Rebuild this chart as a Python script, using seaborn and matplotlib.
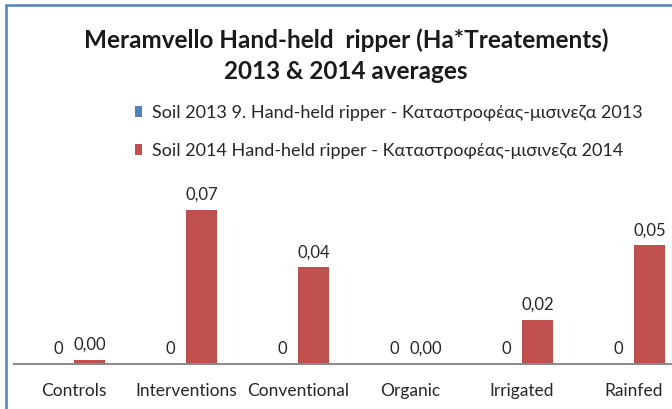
import matplotlib
matplotlib.use("Agg")
import matplotlib.pyplot as plt
from matplotlib.patches import Rectangle
import seaborn as sns
import pandas as pd

categories = ["Controls", "Interventions", "Conventional", "Organic", "Irrigated", "Rainfed"]
series_names = [
    "Soil 2013 9. Hand-held ripper - Καταστροφέας-μισινεζα 2013",
    "Soil 2014 Hand-held ripper - Καταστροφέας-μισινεζα 2014",
]
values_2013 = [0, 0, 0, 0, 0, 0]
values_2014 = [0.002, 0.070, 0.044, 0.0, 0.020, 0.054]
labels_2013 = ["0", "0", "0", "0", "0", "0"]
labels_2014 = ["0,00", "0,07", "0,04", "0,00", "0,02", "0,05"]
colors = ["#4F81BD", "#C0504D"]
title = "Meramvello Hand-held  ripper (Ha*Treatements)\n2013 & 2014 averages"

df = pd.DataFrame({
    "category": categories * 2,
    "series": [series_names[0]] * len(categories) + [series_names[1]] * len(categories),
    "value": values_2013 + values_2014,
})

sns.set_theme(style="white")
plt.rcParams["font.family"] = ["Lato", "Open Sans", "DejaVu Sans"]

W, H = 672, 409
fig = plt.figure(figsize=(W / 100, H / 100), dpi=100)
fig.patch.set_facecolor("white")

ax_bottom = 364
ax_top = 190
ax_left = 14
ax = fig.add_axes([ax_left / W, (H - ax_bottom) / H, 1 - ax_left / W, (ax_bottom - ax_top) / H])

sns.barplot(data=df, x="category", y="value", hue="series", order=categories,
            hue_order=series_names, palette=colors, width=0.554, ax=ax,
            saturation=1, linewidth=0, errorbar=None)

px_per_unit = 2200.0
ax.set_ylim(0, (ax_bottom - ax_top) / px_per_unit)
ax.set_xlim((ax_left - 74) / 112, (W - 74) / 112)

for cont, labs in zip(ax.containers, [labels_2013, labels_2014]):
    ax.bar_label(cont, labels=labs, padding=5, fontsize=12, color="#262626")

for s in ["top", "right", "left"]:
    ax.spines[s].set_visible(False)
ax.spines["bottom"].set_color("#8C8C8C")
ax.spines["bottom"].set_linewidth(1.5)
ax.set_yticks([])
ax.set_xlabel("")
ax.set_ylabel("")
ax.tick_params(axis="x", length=0, pad=14, labelsize=12.5, labelcolor="#262626")
ax.patch.set_alpha(0)

handles, labs = ax.get_legend_handles_labels()
ax.legend(handles, labs, loc="upper left", bbox_to_anchor=(119 / W, 1 - 89 / H),
          bbox_transform=fig.transFigure, frameon=False, fontsize=13,
          labelspacing=1.2, handlelength=0.4, handleheight=0.55, handletextpad=0.5,
          labelcolor="#262626")

fig.suptitle(title, x=346 / W, y=1 - 28 / H, fontsize=17.5, fontweight="bold",
             color="#1a1a1a", linespacing=1.45, va="top")

fig.patches.append(Rectangle((6 / W, -0.5), 2, 1 - 4.5 / H + 0.5, transform=fig.transFigure,
                             fill=False, edgecolor="#4F81BD", linewidth=1.8))

fig.savefig("out.png", dpi=100)
